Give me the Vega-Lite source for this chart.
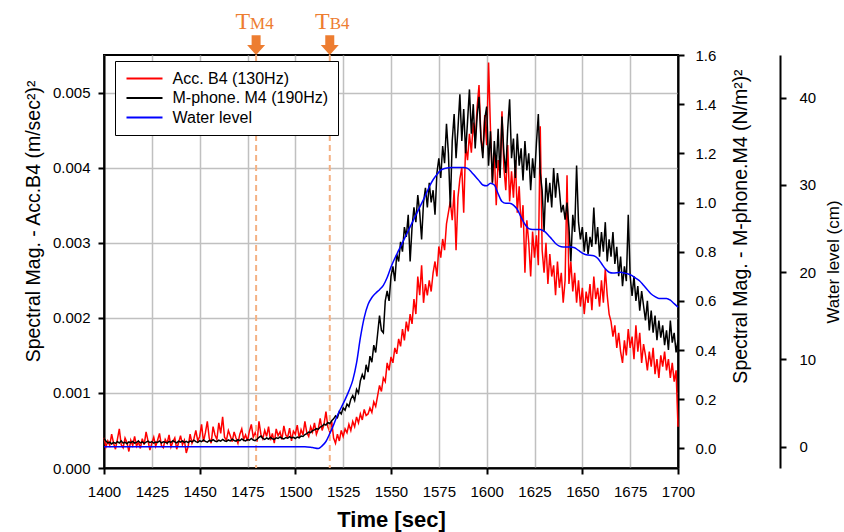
{
"$schema": "https://vega.github.io/schema/vega-lite/v6.json",
"width": 574, "height": 413,
"autosize": {"type": "none"},
"padding": {"left": 104, "top": 55, "right": 166, "bottom": 64},
"background": "white",
"config": {
 "font": "Liberation Sans",
 "view": {"stroke": "black", "strokeWidth": 2},
 "axis": {"labelFont": "Liberation Sans", "labelFontSize": 15, "labelColor": "black", "titleFont": "Liberation Sans", "titleFontSize": 19.5, "titleFontWeight": "normal", "titleColor": "black", "domainColor": "black", "domainWidth": 2, "tickColor": "black", "tickWidth": 2, "tickSize": 6, "gridColor": "#c0c0c0", "gridWidth": 1.5, "labelOverlap": false, "labelFlush": false},
 "legend": {"orient": "none", "legendX": 11, "legendY": 6, "strokeColor": "black", "fillColor": "white", "padding": 9.5, "labelFont": "Liberation Sans", "labelFontSize": 16, "labelColor": "black", "symbolType": "M-1,0H5", "symbolSize": 144, "symbolStrokeWidth": 2, "labelOffset": 32, "rowPadding": 3.5, "cornerRadius": 0}
},
"datasets": {
 "sig": [
{"t":1400,"a":0.00040,"m":0.040},{"t":1401,"a":0.00028,"m":0.030},{"t":1402,"a":0.00036,"m":0.022},{"t":1403,"a":0.00030,"m":0.025},{"t":1404,"a":0.00045,"m":0.018},{"t":1405,"a":0.00033,"m":0.024},{"t":1406,"a":0.00025,"m":0.020},{"t":1407,"a":0.00038,"m":0.027},{"t":1408,"a":0.00052,"m":0.022},{"t":1409,"a":0.00031,"m":0.030},
{"t":1410,"a":0.00027,"m":0.021},{"t":1411,"a":0.00040,"m":0.025},{"t":1412,"a":0.00034,"m":0.019},{"t":1413,"a":0.00022,"m":0.026},{"t":1414,"a":0.00037,"m":0.023},{"t":1415,"a":0.00030,"m":0.028},{"t":1416,"a":0.00042,"m":0.021},{"t":1417,"a":0.00029,"m":0.024},{"t":1418,"a":0.00035,"m":0.030},{"t":1419,"a":0.00026,"m":0.022},
{"t":1420,"a":0.00039,"m":0.026},{"t":1421,"a":0.00031,"m":0.020},{"t":1422,"a":0.00048,"m":0.025},{"t":1423,"a":0.00036,"m":0.029},{"t":1424,"a":0.00024,"m":0.023},{"t":1425,"a":0.00033,"m":0.027},{"t":1426,"a":0.00041,"m":0.021},{"t":1427,"a":0.00029,"m":0.026},{"t":1428,"a":0.00037,"m":0.024},{"t":1429,"a":0.00046,"m":0.030},
{"t":1430,"a":0.00030,"m":0.022},{"t":1431,"a":0.00027,"m":0.027},{"t":1432,"a":0.00038,"m":0.025},{"t":1433,"a":0.00033,"m":0.021},{"t":1434,"a":0.00044,"m":0.028},{"t":1435,"a":0.00028,"m":0.024},{"t":1436,"a":0.00035,"m":0.031},{"t":1437,"a":0.00040,"m":0.026},{"t":1438,"a":0.00025,"m":0.022},{"t":1439,"a":0.00034,"m":0.029},
{"t":1440,"a":0.00043,"m":0.025},{"t":1441,"a":0.00031,"m":0.030},{"t":1442,"a":0.00037,"m":0.024},{"t":1443,"a":0.00020,"m":0.028},{"t":1444,"a":0.00029,"m":0.023},{"t":1445,"a":0.00045,"m":0.030},{"t":1446,"a":0.00033,"m":0.026},{"t":1447,"a":0.00039,"m":0.033},{"t":1448,"a":0.00050,"m":0.027},{"t":1449,"a":0.00036,"m":0.024},
{"t":1450,"a":0.00042,"m":0.031},{"t":1451,"a":0.00058,"m":0.027},{"t":1452,"a":0.00035,"m":0.034},{"t":1453,"a":0.00047,"m":0.028},{"t":1454,"a":0.00062,"m":0.025},{"t":1455,"a":0.00040,"m":0.032},{"t":1456,"a":0.00033,"m":0.029},{"t":1457,"a":0.00055,"m":0.035},{"t":1458,"a":0.00044,"m":0.030},{"t":1459,"a":0.00038,"m":0.027},
{"t":1460,"a":0.00060,"m":0.033},{"t":1461,"a":0.00046,"m":0.029},{"t":1462,"a":0.00068,"m":0.036},{"t":1463,"a":0.00041,"m":0.031},{"t":1464,"a":0.00037,"m":0.028},{"t":1465,"a":0.00050,"m":0.034},{"t":1466,"a":0.00043,"m":0.030},{"t":1467,"a":0.00035,"m":0.037},{"t":1468,"a":0.00048,"m":0.032},{"t":1469,"a":0.00040,"m":0.029},
{"t":1470,"a":0.00033,"m":0.035},{"t":1471,"a":0.00045,"m":0.031},{"t":1472,"a":0.00052,"m":0.038},{"t":1473,"a":0.00038,"m":0.033},{"t":1474,"a":0.00044,"m":0.030},{"t":1475,"a":0.00036,"m":0.036},{"t":1476,"a":0.00049,"m":0.033},{"t":1477,"a":0.00058,"m":0.040},{"t":1478,"a":0.00041,"m":0.034},{"t":1479,"a":0.00047,"m":0.031},
{"t":1480,"a":0.00035,"m":0.037},{"t":1481,"a":0.00062,"m":0.045},{"t":1482,"a":0.00045,"m":0.050},{"t":1483,"a":0.00039,"m":0.040},{"t":1484,"a":0.00050,"m":0.036},{"t":1485,"a":0.00042,"m":0.042},{"t":1486,"a":0.00055,"m":0.038},{"t":1487,"a":0.00037,"m":0.044},{"t":1488,"a":0.00046,"m":0.039},{"t":1489,"a":0.00033,"m":0.036},
{"t":1490,"a":0.00052,"m":0.043},{"t":1491,"a":0.00043,"m":0.040},{"t":1492,"a":0.00048,"m":0.046},{"t":1493,"a":0.00038,"m":0.041},{"t":1494,"a":0.00056,"m":0.038},{"t":1495,"a":0.00044,"m":0.044},{"t":1496,"a":0.00041,"m":0.041},{"t":1497,"a":0.00053,"m":0.047},{"t":1498,"a":0.00036,"m":0.042},{"t":1499,"a":0.00049,"m":0.045},
{"t":1500,"a":0.00045,"m":0.040},{"t":1501,"a":0.00057,"m":0.046},{"t":1502,"a":0.00040,"m":0.043},{"t":1503,"a":0.00051,"m":0.050},{"t":1504,"a":0.00044,"m":0.048},{"t":1505,"a":0.00062,"m":0.056},{"t":1506,"a":0.00047,"m":0.060},{"t":1507,"a":0.00042,"m":0.066},{"t":1508,"a":0.00055,"m":0.064},{"t":1509,"a":0.00048,"m":0.072},
{"t":1510,"a":0.00060,"m":0.075},{"t":1511,"a":0.00045,"m":0.080},{"t":1512,"a":0.00052,"m":0.078},{"t":1513,"a":0.00066,"m":0.086},{"t":1514,"a":0.00050,"m":0.090},{"t":1515,"a":0.00058,"m":0.098},{"t":1516,"a":0.00075,"m":0.095},{"t":1517,"a":0.00055,"m":0.105},{"t":1518,"a":0.00048,"m":0.100},{"t":1519,"a":0.00062,"m":0.112},
{"t":1520,"a":0.00040,"m":0.120},{"t":1521,"a":0.00033,"m":0.132},{"t":1522,"a":0.00045,"m":0.125},{"t":1523,"a":0.00036,"m":0.150},{"t":1524,"a":0.00050,"m":0.140},{"t":1525,"a":0.00042,"m":0.165},{"t":1526,"a":0.00052,"m":0.155},{"t":1527,"a":0.00047,"m":0.180},{"t":1528,"a":0.00058,"m":0.170},{"t":1529,"a":0.00050,"m":0.200},
{"t":1530,"a":0.00062,"m":0.215},{"t":1531,"a":0.00055,"m":0.195},{"t":1532,"a":0.00068,"m":0.240},{"t":1533,"a":0.00060,"m":0.225},{"t":1534,"a":0.00072,"m":0.275},{"t":1535,"a":0.00064,"m":0.300},{"t":1536,"a":0.00078,"m":0.280},{"t":1537,"a":0.00070,"m":0.340},{"t":1538,"a":0.00072,"m":0.310},{"t":1539,"a":0.00080,"m":0.375},
{"t":1540,"a":0.00074,"m":0.350},{"t":1541,"a":0.00088,"m":0.420},{"t":1542,"a":0.00082,"m":0.390},{"t":1543,"a":0.00096,"m":0.465},{"t":1544,"a":0.00110,"m":0.540},{"t":1545,"a":0.00102,"m":0.480},{"t":1546,"a":0.00120,"m":0.470},{"t":1547,"a":0.00115,"m":0.600},{"t":1548,"a":0.00140,"m":0.640},{"t":1549,"a":0.00130,"m":0.600},
{"t":1550,"a":0.00148,"m":0.700},{"t":1551,"a":0.00140,"m":0.740},{"t":1552,"a":0.00160,"m":0.680},{"t":1553,"a":0.00152,"m":0.790},{"t":1554,"a":0.00172,"m":0.760},{"t":1555,"a":0.00162,"m":0.840},{"t":1556,"a":0.00185,"m":0.800},{"t":1557,"a":0.00170,"m":0.900},{"t":1558,"a":0.00195,"m":0.860},{"t":1559,"a":0.00182,"m":0.950},
{"t":1560,"a":0.00205,"m":0.760},{"t":1561,"a":0.00192,"m":0.900},{"t":1562,"a":0.00225,"m":0.980},{"t":1563,"a":0.00205,"m":0.920},{"t":1564,"a":0.00255,"m":1.030},{"t":1565,"a":0.00230,"m":0.960},{"t":1566,"a":0.00270,"m":0.850},{"t":1567,"a":0.00220,"m":1.000},{"t":1568,"a":0.00245,"m":1.060},{"t":1569,"a":0.00230,"m":0.980},
{"t":1570,"a":0.00250,"m":1.080},{"t":1571,"a":0.00235,"m":1.000},{"t":1572,"a":0.00260,"m":1.050},{"t":1573,"a":0.00275,"m":0.950},{"t":1574,"a":0.00255,"m":1.120},{"t":1575,"a":0.00295,"m":1.180},{"t":1576,"a":0.00280,"m":1.100},{"t":1577,"a":0.00305,"m":1.230},{"t":1578,"a":0.00290,"m":1.160},{"t":1579,"a":0.00325,"m":1.320},
{"t":1580,"a":0.00340,"m":1.200},{"t":1581,"a":0.00355,"m":0.980},{"t":1582,"a":0.00330,"m":1.250},{"t":1583,"a":0.00370,"m":1.360},{"t":1584,"a":0.00290,"m":1.180},{"t":1585,"a":0.00360,"m":1.300},{"t":1586,"a":0.00385,"m":1.440},{"t":1587,"a":0.00400,"m":1.250},{"t":1588,"a":0.00340,"m":1.380},{"t":1589,"a":0.00430,"m":1.200},
{"t":1590,"a":0.00410,"m":1.330},{"t":1591,"a":0.00445,"m":1.460},{"t":1592,"a":0.00420,"m":1.280},{"t":1593,"a":0.00460,"m":1.400},{"t":1594,"a":0.00435,"m":1.220},{"t":1595,"a":0.00480,"m":1.350},{"t":1596,"a":0.00510,"m":1.430},{"t":1597,"a":0.00440,"m":1.260},{"t":1598,"a":0.00420,"m":1.180},{"t":1599,"a":0.00470,"m":1.340},
{"t":1600,"a":0.00430,"m":1.390},{"t":1601,"a":0.00540,"m":1.150},{"t":1602,"a":0.00450,"m":1.290},{"t":1603,"a":0.00380,"m":1.080},{"t":1604,"a":0.00420,"m":1.250},{"t":1605,"a":0.00350,"m":1.140},{"t":1606,"a":0.00410,"m":1.300},{"t":1607,"a":0.00390,"m":1.100},{"t":1608,"a":0.00475,"m":1.350},{"t":1609,"a":0.00400,"m":1.200},
{"t":1610,"a":0.00370,"m":1.120},{"t":1611,"a":0.00430,"m":1.300},{"t":1612,"a":0.00355,"m":1.420},{"t":1613,"a":0.00395,"m":1.180},{"t":1614,"a":0.00360,"m":1.260},{"t":1615,"a":0.00410,"m":1.100},{"t":1616,"a":0.00340,"m":1.280},{"t":1617,"a":0.00375,"m":1.150},{"t":1618,"a":0.00320,"m":1.220},{"t":1619,"a":0.00350,"m":1.090},
{"t":1620,"a":0.00260,"m":1.250},{"t":1621,"a":0.00330,"m":1.130},{"t":1622,"a":0.00300,"m":1.200},{"t":1623,"a":0.00255,"m":1.050},{"t":1624,"a":0.00315,"m":1.180},{"t":1625,"a":0.00280,"m":1.100},{"t":1626,"a":0.00310,"m":1.240},{"t":1627,"a":0.00270,"m":1.360},{"t":1628,"a":0.00455,"m":1.120},{"t":1629,"a":0.00290,"m":1.050},
{"t":1630,"a":0.00260,"m":0.880},{"t":1631,"a":0.00300,"m":1.100},{"t":1632,"a":0.00245,"m":1.000},{"t":1633,"a":0.00285,"m":1.080},{"t":1634,"a":0.00255,"m":0.980},{"t":1635,"a":0.00270,"m":1.140},{"t":1636,"a":0.00230,"m":1.020},{"t":1637,"a":0.00275,"m":1.120},{"t":1638,"a":0.00240,"m":1.050},{"t":1639,"a":0.00260,"m":0.960},
{"t":1640,"a":0.00220,"m":0.990},{"t":1641,"a":0.00250,"m":0.930},{"t":1642,"a":0.00390,"m":1.000},{"t":1643,"a":0.00245,"m":0.900},{"t":1644,"a":0.00275,"m":0.760},{"t":1645,"a":0.00235,"m":0.950},{"t":1646,"a":0.00260,"m":0.880},{"t":1647,"a":0.00220,"m":1.150},{"t":1648,"a":0.00250,"m":0.920},{"t":1649,"a":0.00215,"m":0.850},
{"t":1650,"a":0.00240,"m":0.900},{"t":1651,"a":0.00205,"m":0.800},{"t":1652,"a":0.00235,"m":0.880},{"t":1653,"a":0.00220,"m":0.790},{"t":1654,"a":0.00245,"m":0.860},{"t":1655,"a":0.00210,"m":0.820},{"t":1656,"a":0.00255,"m":0.980},{"t":1657,"a":0.00225,"m":0.830},{"t":1658,"a":0.00240,"m":0.900},{"t":1659,"a":0.00215,"m":0.780},
{"t":1660,"a":0.00250,"m":0.880},{"t":1661,"a":0.00220,"m":0.800},{"t":1662,"a":0.00265,"m":0.920},{"t":1663,"a":0.00230,"m":0.760},{"t":1664,"a":0.00205,"m":0.850},{"t":1665,"a":0.00195,"m":0.780},{"t":1666,"a":0.00175,"m":0.880},{"t":1667,"a":0.00190,"m":0.750},{"t":1668,"a":0.00160,"m":0.820},{"t":1669,"a":0.00180,"m":0.700},
{"t":1670,"a":0.00155,"m":0.780},{"t":1671,"a":0.00140,"m":0.660},{"t":1672,"a":0.00170,"m":0.740},{"t":1673,"a":0.00150,"m":0.680},{"t":1674,"a":0.00185,"m":0.950},{"t":1675,"a":0.00160,"m":0.700},{"t":1676,"a":0.00175,"m":0.620},{"t":1677,"a":0.00145,"m":0.700},{"t":1678,"a":0.00190,"m":0.600},{"t":1679,"a":0.00155,"m":0.660},
{"t":1680,"a":0.00180,"m":0.560},{"t":1681,"a":0.00140,"m":0.640},{"t":1682,"a":0.00165,"m":0.580},{"t":1683,"a":0.00150,"m":0.520},{"t":1684,"a":0.00130,"m":0.600},{"t":1685,"a":0.00155,"m":0.480},{"t":1686,"a":0.00135,"m":0.560},{"t":1687,"a":0.00160,"m":0.470},{"t":1688,"a":0.00125,"m":0.540},{"t":1689,"a":0.00145,"m":0.440},
{"t":1690,"a":0.00120,"m":0.520},{"t":1691,"a":0.00150,"m":0.450},{"t":1692,"a":0.00135,"m":0.500},{"t":1693,"a":0.00155,"m":0.420},{"t":1694,"a":0.00130,"m":0.480},{"t":1695,"a":0.00145,"m":0.400},{"t":1696,"a":0.00120,"m":0.520},{"t":1697,"a":0.00140,"m":0.430},{"t":1698,"a":0.00115,"m":0.470},{"t":1699,"a":0.00130,"m":0.390},
{"t":1700,"a":0.00055,"m":0.440}
 ],
 "wl": [
{"t":1400,"w":0},{"t":1505,"w":0},{"t":1509,"w":-0.1},{"t":1512,"w":-0.2},{"t":1514,"w":0.1},{"t":1516,"w":0.6},{"t":1518,"w":1.5},{"t":1520,"w":2.5},{"t":1522,"w":3.6},{"t":1524,"w":4.5},{"t":1526,"w":5.4},{"t":1528,"w":6.4},{"t":1530,"w":7.6},{"t":1532,"w":9.6},{"t":1534,"w":12.5},{"t":1536,"w":14.8},{"t":1538,"w":16.3},{"t":1540,"w":17.1},{"t":1542,"w":17.6},{"t":1544,"w":18.0},{"t":1546,"w":18.5},{"t":1548,"w":19.4},{"t":1550,"w":20.6},{"t":1552,"w":21.6},{"t":1554,"w":22.5},{"t":1556,"w":23.4},{"t":1558,"w":24.3},{"t":1560,"w":25.2},{"t":1562,"w":26.1},{"t":1564,"w":27.0},{"t":1566,"w":27.9},{"t":1568,"w":28.8},{"t":1570,"w":29.8},{"t":1572,"w":30.6},{"t":1574,"w":31.2},{"t":1576,"w":31.7},{"t":1578,"w":31.9},{"t":1582,"w":32.0},{"t":1588,"w":32.0},{"t":1590,"w":31.9},{"t":1592,"w":31.5},{"t":1594,"w":31.0},{"t":1596,"w":30.5},{"t":1598,"w":30.0},{"t":1600,"w":29.9},{"t":1602,"w":30.2},{"t":1604,"w":30.0},{"t":1606,"w":29.0},{"t":1608,"w":28.1},{"t":1610,"w":27.9},{"t":1612,"w":27.9},{"t":1614,"w":27.7},{"t":1616,"w":27.2},{"t":1618,"w":26.3},{"t":1620,"w":25.5},{"t":1622,"w":25.0},{"t":1624,"w":24.9},{"t":1628,"w":24.9},{"t":1630,"w":24.7},{"t":1632,"w":24.3},{"t":1634,"w":23.8},{"t":1636,"w":23.3},{"t":1638,"w":23.0},{"t":1640,"w":22.9},{"t":1644,"w":22.9},{"t":1646,"w":22.8},{"t":1648,"w":22.5},{"t":1650,"w":22.2},{"t":1652,"w":22.0},{"t":1656,"w":21.9},{"t":1658,"w":21.6},{"t":1660,"w":21.0},{"t":1662,"w":20.4},{"t":1664,"w":20.0},{"t":1666,"w":19.9},{"t":1670,"w":20.0},{"t":1672,"w":19.9},{"t":1674,"w":19.8},{"t":1676,"w":19.6},{"t":1678,"w":19.3},{"t":1680,"w":19.0},{"t":1682,"w":18.5},{"t":1684,"w":18.0},{"t":1686,"w":17.5},{"t":1688,"w":17.2},{"t":1690,"w":17.0},{"t":1694,"w":17.0},{"t":1696,"w":16.8},{"t":1698,"w":16.4},{"t":1700,"w":16.0}
 ],
 "ev": [
  {"t":1479.5,"sub":"M4"},
  {"t":1518,"sub":"B4"}
 ]
},
"encoding": {
 "x": {"field": "t", "type": "quantitative", "scale": {"domain": [1400, 1700], "nice": false, "zero": false},
  "axis": {"values": [1400,1425,1450,1475,1500,1525,1550,1575,1600,1625,1650,1675,1700], "format": "d", "grid": true, "title": "Time [sec]", "titleFontSize": 22, "titleFontWeight": "bold", "titlePadding": 10, "labelPadding": 10, "tickSize": 6,
   "tickColor": {"condition": {"test": "datum.value % 50 !== 0", "value": "transparent"}, "value": "black"}}}
},
"layer": [
 {
  "layer": [
   {"data": {"name": "sig"}, "mark": {"type": "line", "color": "#ff0000", "strokeWidth": 1.5},
    "encoding": {
     "y": {"field": "a", "type": "quantitative", "scale": {"domain": [0, 0.0055], "nice": false},
      "axis": {"values": [0, 0.001, 0.002, 0.003, 0.004, 0.005], "format": ".3f", "grid": true, "orient": "left", "labelPadding": 8, "titlePadding": 9, "titleY": 166, "title": "Spectral Mag. - Acc.B4  (m/sec²)²"}},
     "color": {"datum": "Acc. B4 (130Hz)", "type": "nominal", "scale": {"domain": ["Acc. B4 (130Hz)", "M-phone. M4 (190Hz)", "Water level"], "range": ["#ff0000", "#000000", "#0000ff"]}, "legend": {"title": null}}
    }},
   {"data": {"name": "ev"}, "mark": {"type": "rule", "color": "#f4b183", "strokeWidth": 2, "strokeDash": [6, 4]}, "encoding": {}},
   {"data": {"name": "ev"}, "mark": {"type": "point", "filled": true, "opacity": 1, "color": "#ed7d31", "size": 324, "shape": "M-0.5,-2.2L0.5,-2.2L0.5,-1.1L1,-1.1L0,0L-1,-1.1L-0.5,-1.1Z"},
    "encoding": {"y": {"datum": 0.0055}}},
   {"data": {"name": "ev"}, "transform": [{"filter": "datum.sub === 'M4'"}], "mark": {"type": "text", "text": "T", "font": "Liberation Serif", "fontSize": 24, "color": "#ed7d31", "align": "right", "baseline": "alphabetic", "dx": -6},
    "encoding": {"y": {"datum": 0.005847}}},
   {"data": {"name": "ev"}, "transform": [{"filter": "datum.sub === 'M4'"}], "mark": {"type": "text", "font": "Liberation Serif", "fontSize": 17, "color": "#ed7d31", "align": "left", "baseline": "alphabetic", "dx": -6},
    "encoding": {"y": {"datum": 0.005847}, "text": {"field": "sub"}}},
   {"data": {"name": "ev"}, "transform": [{"filter": "datum.sub === 'B4'"}], "mark": {"type": "text", "text": "T", "font": "Liberation Serif", "fontSize": 24, "color": "#ed7d31", "align": "right", "baseline": "alphabetic", "dx": 0},
    "encoding": {"y": {"datum": 0.005847}}},
   {"data": {"name": "ev"}, "transform": [{"filter": "datum.sub === 'B4'"}], "mark": {"type": "text", "font": "Liberation Serif", "fontSize": 17, "color": "#ed7d31", "align": "left", "baseline": "alphabetic", "dx": 0},
    "encoding": {"y": {"datum": 0.005847}, "text": {"field": "sub"}}}
  ]
 },
 {"data": {"name": "sig"}, "mark": {"type": "line", "color": "#000000", "strokeWidth": 1.5},
  "encoding": {
   "y": {"field": "m", "type": "quantitative", "scale": {"domain": [-0.08, 1.6], "nice": false, "zero": false},
    "axis": {"orient": "right", "values": [0, 0.2, 0.4, 0.6, 0.8, 1.0, 1.2, 1.4, 1.6], "format": ".1f", "grid": false, "labelPadding": 11, "titlePadding": 16, "titleAngle": 270, "titleBaseline": "top", "titleY": 171, "title": "Spectral Mag. - M-phone.M4  (N/m²)²"}},
   "color": {"datum": "M-phone. M4 (190Hz)", "type": "nominal"}
  }},
 {"data": {"name": "wl"}, "mark": {"type": "line", "color": "#0000ff", "strokeWidth": 1.5, "interpolate": "monotone"},
  "encoding": {
   "y": {"field": "w", "type": "quantitative", "scale": {"domain": [-2.44, 44.9], "nice": false, "zero": false},
    "axis": {"orient": "right", "offset": 102, "values": [0, 10, 20, 30, 40], "grid": false, "labelPadding": 13, "titlePadding": 10, "titleFontSize": 17, "titleAngle": 270, "titleBaseline": "top", "title": "Water level (cm)"}},
   "color": {"datum": "Water level", "type": "nominal"}
  }}
],
"resolve": {"scale": {"y": "independent"}}
}
